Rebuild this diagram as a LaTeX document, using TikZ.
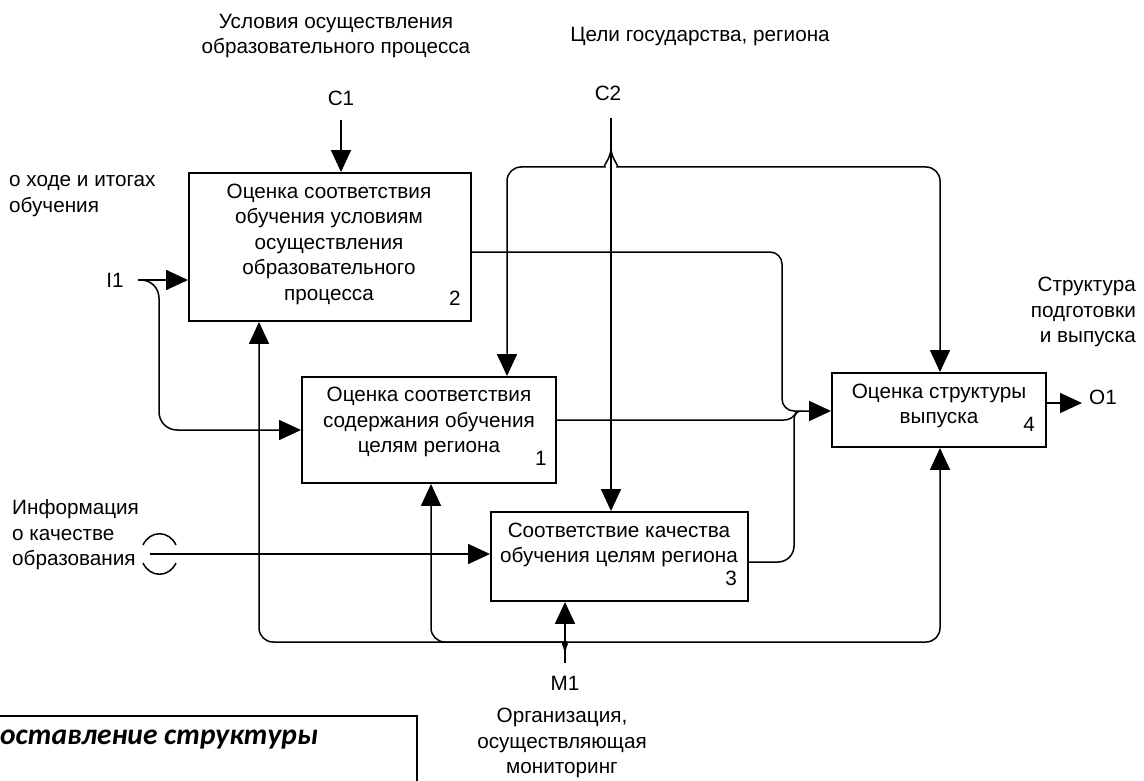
\documentclass[tikz,border=0pt]{standalone}
\usepackage{fontspec}
\setmainfont{Liberation Sans}
\newfontfamily\notefont{Carlito}
\usetikzlibrary{arrows.meta}

\begin{document}
\begin{tikzpicture}[x=1pt,y=-1pt,
  txt/.style={font=\fontsize{20.7}{25.5}\selectfont, inner sep=0pt, align=center},
  ltxt/.style={txt, align=left, anchor=west},
  proc/.style={draw, line width=1.9pt, inner sep=0pt},
  ln/.style={line width=1.5pt},
  arr/.style={ln, -{Triangle[length=22pt,width=20pt]}},
  rc/.style={rounded corners=14pt}]

\useasboundingbox (0,0) rectangle (1144,781);
\clip (0,0) rectangle (1144,781);
\fill[white] (0,0) rectangle (1144,781);

% activity boxes
\node[proc, minimum width=282, minimum height=148] (b2) at (330,247) {};
\node[proc, minimum width=254, minimum height=106] (b1) at (429,430) {};
\node[proc, minimum width=257, minimum height=89]  (b3) at (619.5,556.5) {};
\node[proc, minimum width=214, minimum height=74]  (b4) at (939,410) {};

% box captions and numbers
\node[txt] (t2) at (329,244) {Оценка соответствия\\обучения условиям\\осуществления\\образовательного\\процесса};
\node[txt] (n2) at (455,298) {2};
\node[txt] (t1) at (429,422) {Оценка соответствия\\содержания обучения\\целям региона};
\node[txt] (n1) at (541,458) {1};
\node[txt] (t3) at (619,545) {Соответствие качества\\обучения целям региона};
\node[txt] (n3) at (731,578) {3};
\node[txt] (t4) at (939,406) {Оценка структуры\\выпуска};
\node[txt] (n4) at (1029,424) {4};

% boundary labels
\node[txt] (lc1t) at (336,36) {Условия осуществления\\образовательного процесса};
\node[txt] (lc1) at (341,98) {C1};
\node[txt] (lc2t) at (700,37) {Цели государства, региона};
\node[txt] (lc2) at (608,93) {C2};
\node[ltxt] (li1t) at (9,196) {о ходе и итогах\\обучения};
\node[txt] (li1) at (115,280) {I1};
\node[ltxt] (li2t) at (12,535) {Информация\\о качестве\\образования};
\node[txt] (lm1) at (565,683) {M1};
\node[txt] (lm1t) at (562,743) {Организация,\\осуществляющая\\мониторинг};
\node[txt, align=right, anchor=east] (lo1t) at (1136,312) {Структура\\подготовки\\и выпуска};
\node[txt] (lo1) at (1103,397) {O1};

% free ends of the boundary arrows
\coordinate (c1) at (341,120);
\coordinate (c2) at (611,118);
\coordinate (c2b) at (611,148);
\coordinate (i1) at (138,280);
\coordinate (inf) at (150,554);
\coordinate (m1) at (565,663);
\coordinate (m1b) at (565,651);
\coordinate (o1) at (1082,403);

% helper coordinates for the bends
\coordinate (xa) at (507,0);
\coordinate (xb) at (940,0);
\coordinate (xc) at (431,0);
\coordinate (xd) at (259,0);
\coordinate (y2) at (0,252);
\coordinate (y1) at (0,420);
\coordinate (y3) at (0,562);
\coordinate (yo) at (0,403);
\coordinate (yi) at (0,411);

% controls
\draw[arr] (c1) -- (c1 |- b2.north);
\draw[arr] (c2) -- (c2 |- b3.north);
\draw[arr, rc] (c2b) to[out=-90,in=0] (591,167) -- (507,167) -- (xa |- b1.north);
\draw[arr, rc] (c2b) to[out=-90,in=180] (631,167) -- (940,167) -- (xb |- b4.north);

% inputs
\draw[arr] (i1) -- (i1 -| b2.west);
\draw[arr, rounded corners=18pt] (i1) -- (159,280) -- (159,430) -- (b1.west);
\draw[arr] (inf) -- (inf -| b3.west);
\draw[ln] (143,545) .. controls (150,530) and (169,530) .. (176,545);
\draw[ln] (143,563) .. controls (150,578) and (169,578) .. (176,563);

% mechanisms
\draw[arr] (m1) -- (m1 |- b3.south);
\draw[arr, rc] (m1b) to[out=90,in=0] (553,642) -- (259,642) -- (xd |- b2.south);
\draw[arr, rc] (m1b) to[out=90,in=0] (553,642) -- (431,642) -- (xc |- b1.south);
\draw[arr, rc] (m1b) to[out=90,in=180] (577,642) -- (940,642) -- (xb |- b4.south);

% outputs merging into box 4
\draw[arr, rounded corners=12pt] (b2.east |- y2) -- (782,252) -- (782,411) -- (b4.west |- yi);
\draw[ln] (b1.east |- y1) -- (784,420) .. controls (790,420) and (794,417) .. (797,411);
\draw[ln, rounded corners=16pt] (b3.east |- y3) -- (794,562) -- (794,419);
\draw[ln] (794,419.5) to[out=90,in=180] (801,411);
\draw[arr] (b4.east |- yo) -- (o1);

% note frame below the diagram
\draw[line width=1.2pt] (-10,716) -- (417,716) -- (417,800);
\node[font=\notefont\bfseries\itshape\fontsize{29.5}{34}\selectfont, anchor=base west, inner sep=0pt] (note) at (0,744) {оставление структуры};

\end{tikzpicture}
\end{document}
